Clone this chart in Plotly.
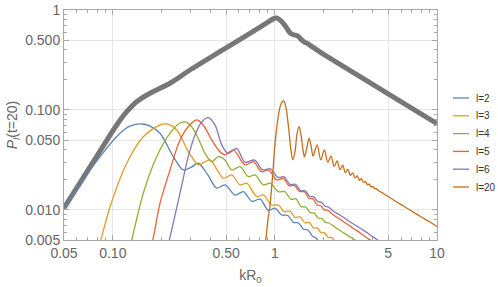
import plotly.graph_objects as go

# ---- data ----
total_x = [0.05, 0.0724, 0.1057, 0.1219, 0.1404, 0.1697, 0.2254, 0.2995, 0.5, 0.8, 0.9, 0.97, 1.02, 1.07,
           1.127, 1.19, 1.24, 1.30, 1.36, 1.41, 1.46, 1.53, 1.60, 1.66, 1.77, 2.0, 3.0, 5.0, 10.0]
total_y = [0.0105, 0.0269, 0.0708, 0.0961, 0.121, 0.147, 0.185, 0.251, 0.417, 0.667, 0.75, 0.81, 0.83, 0.80,
           0.736, 0.65, 0.59, 0.565, 0.555, 0.535, 0.503, 0.475, 0.46, 0.44, 0.41, 0.36, 0.24, 0.145, 0.073]

l2_x = [0.05, 0.0628, 0.0834, 0.1108, 0.1277, 0.1508, 0.1697, 0.1956, 0.2362, 0.2723, 0.305, 0.3369, 0.385,
        0.4375, 0.4922, 0.5674, 0.6386, 0.7214, 0.8095, 0.911, 1.0, 1.1, 1.2, 1.3, 1.4, 1.5, 1.6, 1.7, 1.8, 1.9]
l2_y = [0.0100, 0.0178, 0.0341, 0.0585, 0.069, 0.0724, 0.069, 0.0585, 0.0341, 0.0251, 0.0268, 0.0293, 0.0225,
        0.0165, 0.0178, 0.0141, 0.0152, 0.0122, 0.0128, 0.0099, 0.0104, 0.0089, 0.0088, 0.0075, 0.0074, 0.0064,
        0.0063, 0.0055, 0.0052, 0.0046]

l3_x = [0.080, 0.0842, 0.0961, 0.1219, 0.1542, 0.1956, 0.215, 0.248, 0.292, 0.3067, 0.3369, 0.3705, 0.3978,
        0.4475, 0.4805, 0.5415, 0.6092, 0.67, 0.772, 0.848, 0.9557, 1.052, 1.14, 1.24, 1.33, 1.43, 1.53, 1.63,
        1.73, 1.83, 1.93, 2.03, 2.13, 2.23, 2.4, 2.6]
l3_y = [0.0040, 0.0050, 0.0107, 0.0293, 0.0539, 0.0708, 0.0724, 0.0631, 0.0381, 0.0341, 0.0282, 0.0304, 0.0316,
        0.0241, 0.0207, 0.0224, 0.0178, 0.0185, 0.0136, 0.0141, 0.0112, 0.0112, 0.0096, 0.0097, 0.0084, 0.0085,
        0.0074, 0.0075, 0.0066, 0.0066, 0.0059, 0.0059, 0.0053, 0.0053, 0.0047, 0.0043]

l4_x = [0.125, 0.1308, 0.1542, 0.1866, 0.2254, 0.2598, 0.2795, 0.3067, 0.3369, 0.3705, 0.4075, 0.4475, 0.4922,
        0.5415, 0.6092, 0.6855, 0.7541, 0.848, 0.933, 1.052, 1.155, 1.25, 1.35, 1.45, 1.55, 1.65, 1.75, 1.85,
        1.95, 2.05, 2.15, 2.35, 2.65, 2.95, 3.25, 3.5]
l4_y = [0.0038, 0.0050, 0.0147, 0.0341, 0.0585, 0.0740, 0.0758, 0.0680, 0.0519, 0.0368, 0.0304, 0.0341, 0.0316,
        0.0251, 0.0271, 0.0215, 0.0224, 0.0178, 0.0185, 0.0152, 0.0152, 0.0128, 0.0129, 0.0108, 0.0107, 0.0094,
        0.0093, 0.0083, 0.0082, 0.0075, 0.0074, 0.0067, 0.0059, 0.0053, 0.0048, 0.0044]

l5_x = [0.170, 0.1763, 0.1956, 0.2254, 0.2598, 0.292, 0.3293, 0.3536, 0.38, 0.4075, 0.4585, 0.4922, 0.554,
        0.654, 0.736, 0.829, 0.911, 1.026, 1.127, 1.22, 1.32, 1.42, 1.52, 1.62, 1.72, 1.82, 1.92, 2.02, 2.12,
        2.3, 2.6, 2.9, 3.2, 3.5, 3.8, 4.1]
l5_y = [0.0042, 0.0050, 0.0117, 0.0251, 0.0501, 0.0680, 0.0794, 0.0735, 0.0620, 0.0501, 0.0381, 0.0355, 0.0398,
        0.0282, 0.0304, 0.0241, 0.0251, 0.0200, 0.0207, 0.0175, 0.0175, 0.0153, 0.0152, 0.0131, 0.0129, 0.0112,
        0.0110, 0.0100, 0.0099, 0.0089, 0.0078, 0.0069, 0.0062, 0.0056, 0.0051, 0.0047]

l6_x = [0.215, 0.2232, 0.2598, 0.292, 0.3215, 0.3536, 0.388, 0.427, 0.4697, 0.5136, 0.5813, 0.654, 0.75, 0.84,
        0.94, 1.04, 1.14, 1.24, 1.34, 1.44, 1.54, 1.64, 1.74, 1.84, 1.94, 2.04, 2.14, 2.3, 2.6, 2.9, 3.2, 3.6,
        4.0, 4.4, 4.8]
l6_y = [0.0040, 0.0050, 0.0147, 0.0341, 0.0562, 0.0758, 0.0837, 0.0708, 0.0450, 0.0368, 0.0411, 0.0300, 0.0315,
        0.0252, 0.0258, 0.0212, 0.0214, 0.0180, 0.0180, 0.0156, 0.0155, 0.0137, 0.0135, 0.0121, 0.0119, 0.0109,
        0.0107, 0.0097, 0.0086, 0.0076, 0.0069, 0.0061, 0.0054, 0.0049, 0.0045]

l20_x = [0.86, 0.878, 0.905, 0.933, 0.966, 1.0, 1.026, 1.052, 1.08, 1.105, 1.127, 1.15, 1.18, 1.22, 1.255,
         1.29, 1.33, 1.37, 1.41, 1.45, 1.49, 1.52, 1.575, 1.625, 1.675, 1.72, 1.82, 1.92, 2.02, 2.12, 2.22,
         2.32, 2.42, 2.52, 2.62, 2.72, 2.82, 2.92, 3.02, 3.12, 3.22, 3.32, 3.42, 3.52, 3.62, 3.72, 3.82, 3.92,
         4.02, 4.12, 4.22, 4.3, 4.6, 5.0, 6.0, 7.0, 8.0, 9.0, 10.0]
l20_y = [0.0040, 0.0050, 0.0078, 0.0112, 0.0210, 0.0447, 0.0660, 0.0890, 0.110, 0.120, 0.123, 0.118, 0.098,
         0.062, 0.040, 0.0316, 0.038, 0.058, 0.068, 0.056, 0.040, 0.034, 0.042, 0.052, 0.043, 0.0345, 0.0447,
         0.0316, 0.0398, 0.0300, 0.0345, 0.0272, 0.0310, 0.0253, 0.0280, 0.0236, 0.0255, 0.0222, 0.0235,
         0.0209, 0.0219, 0.0198, 0.0205, 0.0188, 0.0192, 0.0179, 0.0181, 0.0170, 0.0172, 0.0163, 0.0163,
         0.0158, 0.0148, 0.0136, 0.0113, 0.0097, 0.0085, 0.0076, 0.0068]

series_names = ["l=2", "l=3", "l=4", "l=5", "l=6", "l=20"]
series_x = [l2_x, l3_x, l4_x, l5_x, l6_x, l20_x]
series_y = [l2_y, l3_y, l4_y, l5_y, l6_y, l20_y]
series_colors = ["#5E81B5", "#E19C24", "#8FB032", "#EB6235", "#8778B3", "#C56E1A"]

x_ticks = [0.05, 0.1, 0.5, 1, 5, 10]
x_ticklabels = ["0.05", "0.10", "0.50", "1", "5", "10"]
x_minor = [0.06, 0.07, 0.08, 0.09, 0.2, 0.3, 0.4, 0.6, 0.7, 0.8, 0.9, 2, 3, 4, 6, 7, 8, 9]
y_ticks = [0.005, 0.01, 0.05, 0.1, 0.5, 1]
y_ticklabels = ["0.005", "0.010", "0.050", "0.100", "0.500", "1"]
y_minor = [0.006, 0.007, 0.008, 0.009, 0.02, 0.03, 0.04, 0.06, 0.07, 0.08, 0.09, 0.2, 0.3, 0.4, 0.6, 0.7, 0.8, 0.9]

W, H = 498, 287
ML, MR, MT, MB = 64, 61, 10, 47
PW, PH = W - ML - MR, H - MT - MB

fig = go.Figure()
fig.add_trace(go.Scatter(x=total_x, y=total_y, mode="lines", showlegend=False,
                         line=dict(color="#777777", width=5, shape="spline", smoothing=0.8)))
for name, xs, ys, col in zip(series_names, series_x, series_y, series_colors):
    fig.add_trace(go.Scatter(x=xs, y=ys, mode="lines", name=name, showlegend=False,
                             line=dict(color=col, width=1.3, shape="spline", smoothing=0.9)))

# manual legend (keys placed to the right of the frame, as in the reference)
leg_x0, leg_x1, leg_tx = 453, 469, 474     # pixel positions
leg_y0, leg_dy = 98, 17.8
shapes, annos = [], []
for i, (name, col) in enumerate(zip(series_names, series_colors)):
    py = leg_y0 + i * leg_dy
    yp = (H - MB - py) / PH
    shapes.append(dict(type="line", xref="paper", yref="paper",
                       x0=(leg_x0 - ML) / PW, x1=(leg_x1 - ML) / PW, y0=yp, y1=yp,
                       line=dict(color=col, width=1.3)))
    annos.append(dict(xref="paper", yref="paper", x=(leg_tx - ML) / PW, y=yp, xanchor="left",
                      yanchor="middle", text=name, showarrow=False,
                      font=dict(family="Liberation Sans, Arial, sans-serif", size=10, color="#333333")))

frame = "#a8a8a8"
grid = "#e6e6e6"
tickfont = dict(family="Liberation Sans, Arial, sans-serif", size=14, color="#666666")
fig.update_layout(
    width=W, height=H,
    margin=dict(l=ML, r=MR, t=MT, b=MB, autoexpand=False),
    paper_bgcolor="white", plot_bgcolor="white",
    showlegend=False,
    font=dict(family="Liberation Sans, Arial, sans-serif", color="#666666"),
    shapes=shapes, annotations=annos,
    xaxis=dict(type="log", range=[-1.30103, 1.0], tickvals=x_ticks, ticktext=x_ticklabels,
               showline=True, linecolor=frame, linewidth=1, mirror="ticks", automargin=False,
               ticks="inside", ticklen=5, tickcolor=frame, tickfont=tickfont,
               showgrid=True, gridcolor=grid, zeroline=False,
               minor=dict(tickvals=x_minor, ticks="inside", ticklen=3, tickcolor=frame, showgrid=False),
               title=dict(text="kR<sub>0</sub>", font=dict(size=14, color="#666666"), standoff=10)),
    yaxis=dict(type="log", range=[-2.30103, 0.0], tickvals=y_ticks, ticktext=y_ticklabels,
               showline=True, linecolor=frame, linewidth=1, mirror="ticks", automargin=False,
               ticks="inside", ticklen=5, tickcolor=frame, tickfont=tickfont,
               showgrid=True, gridcolor=grid, zeroline=False,
               minor=dict(tickvals=y_minor, ticks="inside", ticklen=3, tickcolor=frame, showgrid=False),
               title=dict(text="<i>P</i><sub><i>l</i></sub>(t=20)", font=dict(size=14, color="#666666"),
                          standoff=4)),
)

fig.write_html("out.html", config={"displayModeBar": False},
               post_script="document.body.style.margin='0';document.body.style.overflow='hidden';")
